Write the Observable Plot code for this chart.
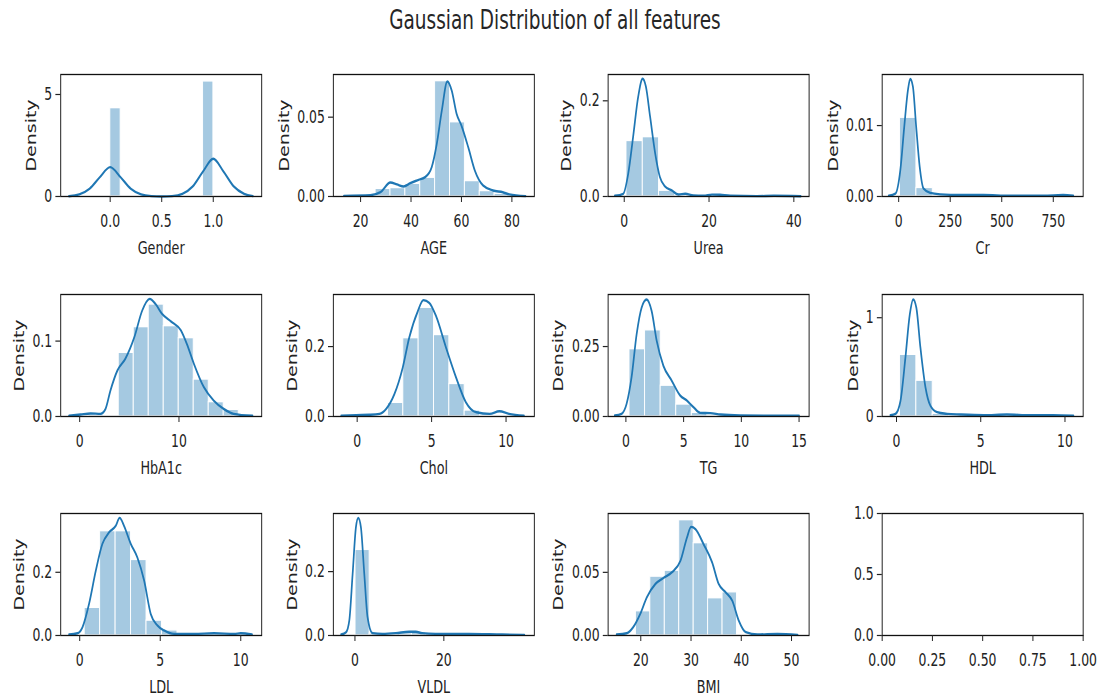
<!DOCTYPE html>
<html>
<head>
<meta charset="utf-8">
<script src="https://cdn.jsdelivr.net/npm/d3@7"></script>
<script src="https://cdn.jsdelivr.net/npm/@observablehq/plot@0.6"></script>
<style>
  html, body { margin: 0; padding: 0; background: #fff; overflow: hidden; }
  #fig { position: absolute; left: 0; top: 0; height: 696px; transform-origin: 0 0; font-family: "DejaVu Sans", sans-serif; }
  #title { position: absolute; top: 5px; font-size: 26px; line-height: 30px; color: #262626; white-space: nowrap; }
  .panel { position: absolute; }
</style>
</head>
<body>
<div id="fig"><div id="title">Gaussian Distribution of all features</div></div>
<script>
// ---------- data ----------
const featureNames = ["Gender", "AGE", "Urea", "Cr", "HbA1c", "Chol", "TG", "HDL", "LDL", "VLDL", "BMI"];

const genderEdges = [0, 0.1, 0.2, 0.3, 0.4, 0.5, 0.6, 0.7, 0.8, 0.9, 1.0];
const genderDensity = [4.33, 0, 0, 0, 0, 0, 0, 0, 0, 5.64];
const genderKdeX = [-0.40, -0.30, -0.20, -0.10, 0.00, 0.10, 0.20, 0.30, 0.40, 0.50, 0.60, 0.70, 0.80, 0.90, 1.00, 1.10, 1.20, 1.30, 1.385];
const genderKdeY = [0.01, 0.10, 0.38, 0.95, 1.44, 0.95, 0.38, 0.10, 0.02, 0.00, 0.02, 0.13, 0.49, 1.22, 1.85, 1.22, 0.49, 0.13, 0.02];

const ageEdges = [20, 25.9, 31.8, 37.7, 43.6, 49.5, 55.4, 61.3, 67.2, 73.1, 79];
const ageDensity = [0.0005, 0.0048, 0.0053, 0.008, 0.0118, 0.0727, 0.0468, 0.0097, 0.0034, 0.0017];
const ageKdeX = [13.4, 23.9, 27.9, 31.8, 34.4, 37.1, 39.7, 43.0, 45.6, 48.2, 50.2, 52.2, 54.4, 56.1, 58.1, 60.0, 62.7, 65.3, 68.6, 72.5, 76.4, 79.0, 85.4];
const ageKdeY = [0.0004, 0.0008, 0.0027, 0.0088, 0.0076, 0.0063, 0.0084, 0.0105, 0.0122, 0.0185, 0.033, 0.054, 0.0725, 0.067, 0.052, 0.0447, 0.031, 0.0164, 0.0069, 0.0038, 0.0027, 0.0013, 0.0002];

const ureaEdges = [0.5, 4.34, 8.18, 12.02, 15.86, 19.7, 23.54, 27.38, 31.22, 35.06, 38.9];
const ureaDensity = [0.116, 0.124, 0.012, 0.0025, 0.0008, 0.001, 0.0005, 0.0002, 0.0001, 0.0003];
const ureaKdeX = [-2.2, -0.24, 0.95, 2.1, 3.3, 4.34, 5.1, 6.1, 7.3, 8.4, 9.6, 11.2, 12.8, 14.4, 16.3, 18.7, 20.7, 22.6, 25.0, 31.3, 35.3, 41.6];
const ureaKdeY = [0.0014, 0.0056, 0.048, 0.125, 0.209, 0.246, 0.23, 0.167, 0.09, 0.041, 0.021, 0.0126, 0.0042, 0.0056, 0.002, 0.0014, 0.004, 0.0035, 0.0014, 0.0007, 0.0014, 0.0005];

const crEdges = [6, 85.4, 164.8, 244.2, 323.6, 403, 482.4, 561.8, 641.2, 720.6, 800];
const crDensity = [0.0111, 0.0012, 0.00015, 0.00002, 0.00002, 0.00001, 0, 0, 0, 0.00004];
const crKdeX = [-48, -16, 8, 27, 45, 56, 69, 85, 102, 121, 153, 202, 298, 411, 540, 702, 798, 847];
const crKdeY = [0.0001, 0.0004, 0.0037, 0.0098, 0.015, 0.01656, 0.0155, 0.0098, 0.0042, 0.0011, 0.0005, 0.0003, 0.0002, 0.0002, 0.0001, 0.0001, 0.0002, 0.0001];

const hba1cEdges = [0.9, 2.41, 3.92, 5.43, 6.94, 8.45, 9.96, 11.47, 12.98, 14.49, 16];
const hba1cDensity = [0.002, 0.001, 0.0844, 0.1185, 0.1485, 0.1198, 0.1039, 0.049, 0.019, 0.0088];
const hba1cKdeX = [-1.07, 0.1, 1.1, 2.1, 2.6, 3.1, 3.8, 4.6, 5.5, 6.3, 7.05, 7.65, 8.3, 9.2, 10.2, 10.8, 11.5, 12.5, 13.5, 14.5, 15.5, 17.4];
const hba1cKdeY = [0.0009, 0.0027, 0.004, 0.0035, 0.010, 0.0345, 0.061, 0.0765, 0.105, 0.1406, 0.156, 0.149, 0.136, 0.126, 0.114, 0.096, 0.07, 0.039, 0.021, 0.010, 0.0035, 0.0009];

const cholEdges = [0, 1.03, 2.06, 3.09, 4.12, 5.15, 6.18, 7.21, 8.24, 9.27, 10.3];
const cholDensity = [0.003, 0.002, 0.039, 0.224, 0.311, 0.233, 0.093, 0.017, 0.003, 0.004];
const cholKdeX = [-1.07, -0.07, 0.83, 1.5, 1.95, 2.5, 3.06, 3.5, 4.07, 4.45, 4.85, 5.3, 5.97, 6.64, 7.3, 8.0, 8.9, 9.55, 10.2, 11.2];
const cholKdeY = [0.002, 0.004, 0.005, 0.0076, 0.022, 0.064, 0.14, 0.226, 0.301, 0.333, 0.325, 0.287, 0.197, 0.112, 0.041, 0.012, 0.0076, 0.015, 0.0076, 0.002];

const tgEdges = [0.3, 1.65, 3.0, 4.35, 5.7, 7.05, 8.4, 9.75, 11.1, 12.45, 13.8];
const tgDensity = [0.2406, 0.308, 0.110, 0.0427, 0.013, 0.004, 0.002, 0.001, 0.0008, 0.0008];
const tgKdeX = [-0.96, -0.38, 0.06, 0.49, 0.93, 1.36, 1.8, 2.23, 2.67, 3.25, 3.97, 4.7, 5.28, 5.86, 6.44, 7.3, 8.2, 9.9, 12.8, 15.0];
const tgKdeY = [0.0036, 0.0095, 0.045, 0.14, 0.294, 0.389, 0.418, 0.377, 0.27, 0.181, 0.128, 0.075, 0.057, 0.033, 0.013, 0.012, 0.007, 0.0036, 0.0024, 0.0024];

const hdlEdges = [0.2, 1.17, 2.14, 3.11, 4.08, 5.05, 6.02, 6.99, 7.96, 8.93, 9.9];
const hdlDensity = [0.624, 0.362, 0.027, 0.007, 0.003, 0.002, 0.003, 0.001, 0.001, 0.002];
const hdlKdeX = [-0.36, -0.06, 0.24, 0.53, 0.79, 0.99, 1.18, 1.42, 1.72, 2.01, 2.41, 3.0, 3.79, 5.17, 6.55, 7.93, 9.3, 10.5];
const hdlKdeY = [0.013, 0.027, 0.161, 0.597, 1.034, 1.185, 1.10, 0.698, 0.295, 0.11, 0.044, 0.027, 0.02, 0.013, 0.02, 0.013, 0.013, 0.007];

const ldlEdges = [0.3, 1.26, 2.22, 3.18, 4.14, 5.1, 6.06, 7.02, 7.98, 8.94, 9.9];
const ldlDensity = [0.0874, 0.33, 0.33, 0.239, 0.047, 0.016, 0.003, 0.002, 0.001, 0.003];
const ldlKdeX = [-0.66, -0.14, 0.17, 0.58, 1.0, 1.41, 1.82, 2.24, 2.48, 2.75, 3.17, 3.58, 4.0, 4.41, 4.82, 5.24, 5.86, 7.1, 8.34, 9.6, 10.0, 10.7];
const ldlKdeY = [0.003, 0.007, 0.026, 0.10, 0.205, 0.29, 0.326, 0.347, 0.372, 0.347, 0.29, 0.247, 0.174, 0.068, 0.032, 0.016, 0.005, 0.005, 0.007, 0.005, 0.007, 0.003];

const vldlEdges = [0.1, 3.27, 6.44, 9.61, 12.78, 15.95, 19.12, 22.29, 25.46, 28.63, 31.8, 34.97];
const vldlDensity = [0.268, 0.006, 0.004, 0.007, 0.009, 0.006, 0.004, 0.003, 0.003, 0.002, 0.003];
const vldlKdeX = [-3.1, -2.0, -1.27, -0.52, 0.22, 0.75, 1.34, 2.1, 2.84, 3.96, 6.2, 9.2, 12.2, 13.7, 15.1, 18.1, 25.6, 33.1, 38.1];
const vldlKdeY = [0.003, 0.0104, 0.047, 0.193, 0.339, 0.368, 0.339, 0.193, 0.057, 0.0073, 0.0052, 0.0073, 0.0115, 0.0115, 0.0073, 0.0052, 0.0052, 0.003, 0.002];

const bmiEdges = [19, 21.875, 24.75, 27.625, 30.5, 33.375, 36.25, 39.125, 42, 44.875, 47.75];
const bmiDensity = [0.0192, 0.0466, 0.0513, 0.0913, 0.0731, 0.0295, 0.0342, 0.0005, 0, 0.0007];
const bmiKdeX = [15.2, 17.2, 18.5, 19.9, 21.2, 22.9, 24.5, 26.2, 27.9, 29.2, 30.0, 30.9, 32.5, 34.2, 35.5, 36.9, 38.2, 39.5, 40.9, 43.2, 47.2, 51.2];
const bmiKdeY = [0.0008, 0.0018, 0.0066, 0.0171, 0.0302, 0.0408, 0.0455, 0.05, 0.0592, 0.0776, 0.086, 0.0842, 0.0723, 0.0579, 0.0408, 0.0342, 0.0276, 0.0118, 0.0026, 0.0008, 0.0013, 0.0005];

// tick values and labels
const genderXTicks = [0, 0.5, 1], genderXLabels = ["0.0", "0.5", "1.0"], genderYTicks = [0, 5], genderYLabels = ["0", "5"];
const ageXTicks = [20, 40, 60, 80], ageXLabels = ["20", "40", "60", "80"], ageYTicks = [0, 0.05], ageYLabels = ["0.00", "0.05"];
const ureaXTicks = [0, 20, 40], ureaXLabels = ["0", "20", "40"], ureaYTicks = [0, 0.2], ureaYLabels = ["0.0", "0.2"];
const crXTicks = [0, 250, 500, 750], crXLabels = ["0", "250", "500", "750"], crYTicks = [0, 0.01], crYLabels = ["0.00", "0.01"];
const hba1cXTicks = [0, 10], hba1cXLabels = ["0", "10"], hba1cYTicks = [0, 0.1], hba1cYLabels = ["0.0", "0.1"];
const cholXTicks = [0, 5, 10], cholXLabels = ["0", "5", "10"], cholYTicks = [0, 0.2], cholYLabels = ["0.0", "0.2"];
const tgXTicks = [0, 5, 10, 15], tgXLabels = ["0", "5", "10", "15"], tgYTicks = [0, 0.25], tgYLabels = ["0.00", "0.25"];
const hdlXTicks = [0, 5, 10], hdlXLabels = ["0", "5", "10"], hdlYTicks = [0, 1], hdlYLabels = ["0", "1"];
const ldlXTicks = [0, 5, 10], ldlXLabels = ["0", "5", "10"], ldlYTicks = [0, 0.2], ldlYLabels = ["0.0", "0.2"];
const vldlXTicks = [0, 20], vldlXLabels = ["0", "20"], vldlYTicks = [0, 0.2], vldlYLabels = ["0.0", "0.2"];
const bmiXTicks = [20, 30, 40, 50], bmiXLabels = ["20", "30", "40", "50"], bmiYTicks = [0, 0.05], bmiYLabels = ["0.00", "0.05"];
const emptyXTicks = [0, 0.25, 0.5, 0.75, 1], emptyXLabels = ["0.00", "0.25", "0.50", "0.75", "1.00"], emptyYTicks = [0, 0.5, 1], emptyYLabels = ["0.0", "0.5", "1.0"];

// scale domains (axis limits)
const xLimits = [[-0.48, 1.47], [9.2, 88.9], [-3.8, 43.6], [-80, 895], [-1.91, 18.33], [-1.6, 11.9], [-1.54, 15.87], [-0.85, 11.08], [-1.18, 11.3], [-4.86, 40.36], [13.5, 53.5], [0, 1]];
const yLimits = [5.98, 0.0769, 0.255, 0.0172, 0.1618, 0.349, 0.436, 1.235, 0.386, 0.382, 0.0966, 1];

// ---------- layout ----------
const SX = 0.71;                     // horizontal compression of the reference image
const figW = 1103 / SX;
const colLeft = [60, 333, 608, 882];
const rowTop = [74, 294, 513];
const frameW = 201, frameH = 122;
const blue = "#1f77b4";
const ink = "#222";

const fig = document.getElementById("fig");
fig.style.width = figW + "px";
fig.style.transform = `scaleX(${SX})`;
const title = document.getElementById("title");
title.style.left = "0px";
title.style.width = (2 * 555 / SX) + "px";
title.style.textAlign = "center";

const panels = [
  {name: featureNames[0], edges: genderEdges, density: genderDensity, kx: genderKdeX, ky: genderKdeY, xt: genderXTicks, xl: genderXLabels, yt: genderYTicks, yl: genderYLabels},
  {name: featureNames[1], edges: ageEdges, density: ageDensity, kx: ageKdeX, ky: ageKdeY, xt: ageXTicks, xl: ageXLabels, yt: ageYTicks, yl: ageYLabels},
  {name: featureNames[2], edges: ureaEdges, density: ureaDensity, kx: ureaKdeX, ky: ureaKdeY, xt: ureaXTicks, xl: ureaXLabels, yt: ureaYTicks, yl: ureaYLabels},
  {name: featureNames[3], edges: crEdges, density: crDensity, kx: crKdeX, ky: crKdeY, xt: crXTicks, xl: crXLabels, yt: crYTicks, yl: crYLabels},
  {name: featureNames[4], edges: hba1cEdges, density: hba1cDensity, kx: hba1cKdeX, ky: hba1cKdeY, xt: hba1cXTicks, xl: hba1cXLabels, yt: hba1cYTicks, yl: hba1cYLabels},
  {name: featureNames[5], edges: cholEdges, density: cholDensity, kx: cholKdeX, ky: cholKdeY, xt: cholXTicks, xl: cholXLabels, yt: cholYTicks, yl: cholYLabels},
  {name: featureNames[6], edges: tgEdges, density: tgDensity, kx: tgKdeX, ky: tgKdeY, xt: tgXTicks, xl: tgXLabels, yt: tgYTicks, yl: tgYLabels},
  {name: featureNames[7], edges: hdlEdges, density: hdlDensity, kx: hdlKdeX, ky: hdlKdeY, xt: hdlXTicks, xl: hdlXLabels, yt: hdlYTicks, yl: hdlYLabels},
  {name: featureNames[8], edges: ldlEdges, density: ldlDensity, kx: ldlKdeX, ky: ldlKdeY, xt: ldlXTicks, xl: ldlXLabels, yt: ldlYTicks, yl: ldlYLabels},
  {name: featureNames[9], edges: vldlEdges, density: vldlDensity, kx: vldlKdeX, ky: vldlKdeY, xt: vldlXTicks, xl: vldlXLabels, yt: vldlYTicks, yl: vldlYLabels},
  {name: featureNames[10], edges: bmiEdges, density: bmiDensity, kx: bmiKdeX, ky: bmiKdeY, xt: bmiXTicks, xl: bmiXLabels, yt: bmiYTicks, yl: bmiYLabels},
  {name: null, edges: null, xt: emptyXTicks, xl: emptyXLabels, yt: emptyYTicks, yl: emptyYLabels}
];

panels.forEach((p, i) => {
  const row = Math.floor(i / 4), col = i % 4;
  const ml = 120, mr = 20, mt = 10, mb = 75;
  const fw = frameW / SX;
  const marks = [];
  if (p.edges) {
    const bins = p.density.map((d, j) => ({x1: p.edges[j], x2: p.edges[j + 1], y: d}));
    marks.push(Plot.rect(bins, {x1: "x1", x2: "x2", y1: 0, y2: "y", fill: blue, fillOpacity: 0.4, stroke: "white", strokeWidth: 1.3}));
    const kde = p.kx.map((x, j) => ({x, y: p.ky[j]}));
    marks.push(Plot.line(kde, {x: "x", y: "y", curve: "monotone-x", stroke: blue, strokeWidth: 2.4}));
  }
  marks.push(Plot.frame({stroke: "#111", strokeWidth: 1.3}));
  marks.push(Plot.axisX({ticks: p.xt, tickFormat: d => p.xl[p.xt.indexOf(d)], tickSize: 6, tickPadding: 12, strokeWidth: 1.4, label: null, fontSize: 17.5}));
  marks.push(Plot.axisY({ticks: p.yt, tickFormat: d => p.yl[p.yt.indexOf(d)], tickSize: 7, tickPadding: 5, strokeWidth: 1.2, label: null, fontSize: 17.5}));
  if (p.name) {
    marks.push(Plot.text([p.name], {frameAnchor: "bottom", dy: 52, text: d => d, fontSize: 18, fill: ink, lineAnchor: "middle"}));
    const maxLen = Math.max(...p.yl.map(s => s.length));
    const off = maxLen <= 1 ? 29 : maxLen === 3 ? 41 : 49;
    marks.push(Plot.text(["Density"], {frameAnchor: "left", dx: -off / SX, rotate: -90, text: d => d, fontSize: 19, fill: ink, textAnchor: "middle", lineAnchor: "middle"}));
  }
  const chart = Plot.plot({
    width: ml + fw + mr,
    height: mt + frameH + mb,
    marginLeft: ml, marginRight: mr, marginTop: mt, marginBottom: mb,
    x: {domain: xLimits[i]},
    y: {domain: [0, yLimits[i]]},
    style: {maxWidth: "none", overflow: "visible", background: "transparent", fontFamily: "DejaVu Sans, sans-serif", fontSize: "17px", color: ink},
    marks
  });
  const wrap = document.createElement("div");
  wrap.className = "panel";
  wrap.style.left = (colLeft[col] / SX - ml) + "px";
  wrap.style.top = (rowTop[row] - mt) + "px";
  wrap.appendChild(chart);
  fig.appendChild(wrap);
});
</script>
</body>
</html>
